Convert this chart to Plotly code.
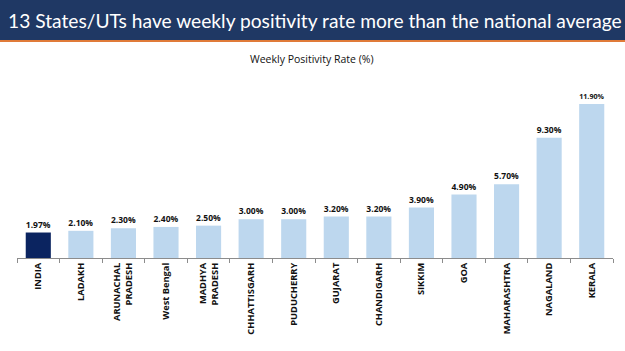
import plotly.graph_objects as go

categories = ["INDIA", "LADAKH", "ARUNACHAL<br>PRADESH", "West Bengal", "MADHYA<br>PRADESH",
              "CHHATTISGARH", "PUDUCHERRY", "GUJARAT", "CHANDIGARH", "SIKKIM", "GOA",
              "MAHARASHTRA", "NAGALAND", "KERALA"]
values = [1.97, 2.10, 2.30, 2.40, 2.50, 3.00, 3.00, 3.20, 3.20, 3.90, 4.90, 5.70, 9.30, 11.90]
value_labels = ["1.97%", "2.10%", "2.30%", "2.40%", "2.50%", "3.00%", "3.00%", "3.20%",
                "3.20%", "3.90%", "4.90%", "5.70%", "9.30%", "11.90%"]
title_text = "13 States/UTs have weekly positivity rate more than the national average"
subtitle_text = "Weekly Positivity Rate (%)"

W, H = 625, 351
L, R, T, B = 17, 613, 80, 258  # plot area in pixels

def px_x(x):
    return (x - L) / (R - L)

def px_y(y):
    return (B - y) / (B - T)

colors = ["#0b2460"] + ["#bdd7ee"] * (len(values) - 1)

fig = go.Figure(go.Bar(
    x=categories, y=values, marker=dict(color=colors, line=dict(width=0)),
    text=value_labels, textposition="outside", cliponaxis=False,
    textfont=dict(family="Open Sans", size=8.5, color="#111111", weight="bold"),
))

fig.update_layout(
    width=W, height=H, paper_bgcolor="white", plot_bgcolor="white",
    margin=dict(l=L, r=W - R, t=T, b=H - B),
    bargap=0.41, showlegend=False,
    xaxis=dict(showline=True, linecolor="#8c8c8c", linewidth=1, ticks="outside",
               tickson="boundaries", ticklen=4, tickcolor="#8c8c8c", tickangle=-90,
               tickfont=dict(family="Open Sans", size=9.3, color="#111111", weight="bold"),
               fixedrange=True),
    yaxis=dict(range=[0, (B - T) / 12.94], visible=False, showgrid=False, fixedrange=True),
    shapes=[
        dict(type="rect", xref="paper", yref="paper", x0=px_x(0), x1=px_x(W),
             y0=px_y(40), y1=px_y(0), fillcolor="#1f3864", line=dict(width=0), layer="above"),
        dict(type="rect", xref="paper", yref="paper", x0=px_x(0), x1=px_x(W),
             y0=px_y(42), y1=px_y(40), fillcolor="#e07b39", line=dict(width=0), layer="above"),
    ],
    annotations=[
        dict(text=title_text, xref="paper", yref="paper", x=px_x(W / 2 + 2), y=px_y(20),
             xanchor="center", yanchor="middle", showarrow=False,
             font=dict(family="Lato", size=19.2, color="white")),
        dict(text=subtitle_text, xref="paper", yref="paper", x=px_x(312), y=px_y(59),
             xanchor="center", yanchor="middle", showarrow=False,
             font=dict(family="Open Sans", size=10.5, color="#111111")),
    ],
)

fig.write_html("out.html")
